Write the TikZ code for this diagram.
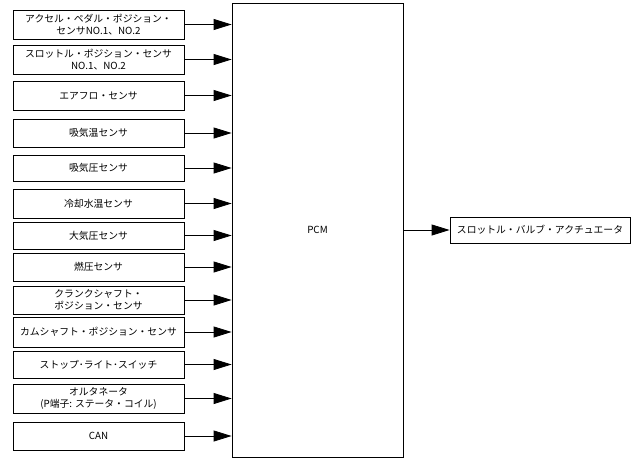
\documentclass[tikz,border=0pt]{standalone}
\usepackage{fontspec}
\setmainfont{Noto Sans CJK JP}
\usetikzlibrary{arrows.meta}

\begin{document}
\begin{tikzpicture}[
    x = 1pt, y = -1pt,
    line width = 0.8pt,
    %
    sensor/.style = {draw,
      font = \fontsize{9.8}{12}\selectfont,
      align = center,
      inner sep = 0pt,
      minimum width = {171pt},
      minimum height = {28pt}},
    %
    unit/.style = {draw,
      font = \fontsize{9.8}{12}\selectfont,
      inner sep = 0pt,
      minimum width = {171pt},
      minimum height = {454pt}},
    %
    actuator/.style = {draw,
      font = \fontsize{9.8}{12}\selectfont,
      inner sep = 0pt,
      minimum width = {180pt},
      minimum height = {26pt}},
    %
    signal/.style = {-{Triangle[length = 18pt, width = 11pt]}},
    ]

    \useasboundingbox (0, 0) rectangle (632, 461);

    \node at (317.5, 230)
    [unit, name = PCM] {PCM};

    \node at (98.5, 24.5)
    [sensor, minimum height = 29pt, name = APP] {アクセル・ペダル・ポジション・\\センサNO.1、NO.2};
    \node at (98.5, 59.5)
    [sensor, minimum height = 29pt, name = TPS] {スロットル・ポジション・センサ\\NO.1、NO.2};
    \node at (98.5, 95.5)
    [sensor, minimum height = 29pt, name = MAF] {エアフロ・センサ};
    \node at (98.5, 133)
    [sensor, name = IAT] {吸気温センサ};
    \node at (98.5, 168)
    [sensor, minimum height = 26pt, name = MAP] {吸気圧センサ};
    \node at (98.5, 203.5)
    [sensor, minimum height = 29pt, name = ECT] {冷却水温センサ};
    \node at (98.5, 235.5)
    [sensor, minimum height = 27pt, name = BARO] {大気圧センサ};
    \node at (98.5, 267)
    [sensor, name = FP] {燃圧センサ};
    \node at (98.5, 300)
    [sensor, name = CKP] {クランクシャフト・\\ポジション・センサ};
    \node at (98.5, 332)
    [sensor, minimum height = 30pt, name = CMP] {カムシャフト・ポジション・センサ};
    \node at (98.5, 364.5)
    [sensor, minimum height = 27pt, name = BPP] {ストップ･ライト･スイッチ};
    \node at (98.5, 398.5)
    [sensor, minimum height = 29pt, name = GEN] {オルタネータ\\(P端子: ステータ・コイル)};
    \node at (98.5, 436)
    [sensor, name = CAN] {CAN};

    \node at (540, 230)
    [actuator, name = TAC] {スロットル・バルブ・アクチュエータ};

    \draw [signal] (APP) to (APP -| PCM.west);
    \draw [signal] (TPS) to (TPS -| PCM.west);
    \draw [signal] (MAF) to (MAF -| PCM.west);
    \draw [signal] (IAT) to (IAT -| PCM.west);
    \draw [signal] (MAP) to (MAP -| PCM.west);
    \draw [signal] (ECT) to (ECT -| PCM.west);
    \draw [signal] (BARO) to (BARO -| PCM.west);
    \draw [signal] (FP) to (FP -| PCM.west);
    \draw [signal] (CKP) to (CKP -| PCM.west);
    \draw [signal] (CMP) to (CMP -| PCM.west);
    \draw [signal] (BPP) to (BPP -| PCM.west);
    \draw [signal] (GEN) to (GEN -| PCM.west);
    \draw [signal] (CAN) to (CAN -| PCM.west);

    \draw [signal] (PCM) to (TAC);

  \end{tikzpicture}
\end{document}
